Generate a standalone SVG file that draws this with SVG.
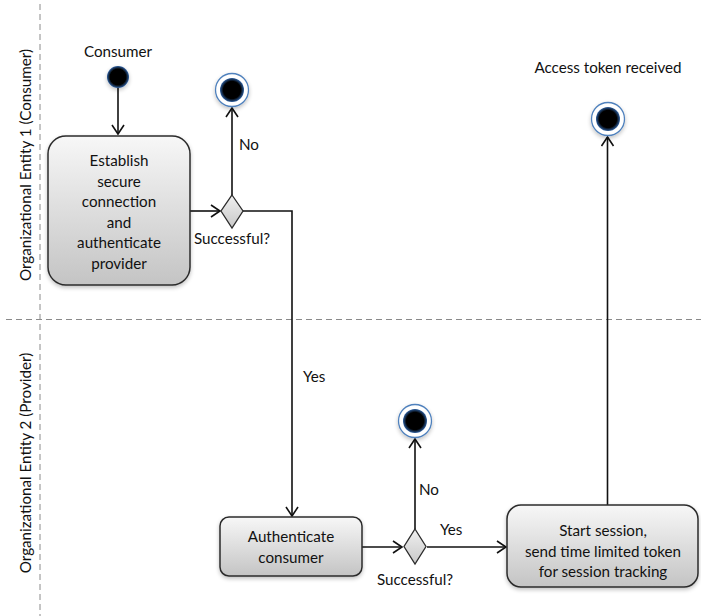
<svg xmlns="http://www.w3.org/2000/svg" width="701" height="616" viewBox="0 0 701 616">
  <style>
    text { font-family: Lato, "Liberation Sans", sans-serif; font-size: 15.2px; fill: #111; }
    .c { text-anchor: middle; }
    .lane { stroke: #8a8a8a; stroke-width: 1; stroke-dasharray: 6 4; fill: none; }
    .edge { stroke: #111; stroke-width: 1.6; fill: none; }
    .box { fill: url(#boxFill); stroke: #2b2b2b; stroke-width: 1.5; }
    .dia { fill: url(#diaFill); stroke: #2b2b2b; stroke-width: 1.3; }
    .ring { fill: #fff; stroke: #4f81bd; stroke-width: 1.3; }
    .dot { fill: url(#dotFill); }
  </style>
  <defs>
    <linearGradient id="boxFill" x1="0" y1="0" x2="0" y2="1">
      <stop offset="0" stop-color="#f7f7f7"/>
      <stop offset="1" stop-color="#c4c4c4"/>
    </linearGradient>
    <linearGradient id="diaFill" x1="0" y1="0" x2="0" y2="1">
      <stop offset="0" stop-color="#f0f0f0"/>
      <stop offset="1" stop-color="#c8c8c8"/>
    </linearGradient>
    <radialGradient id="dotFill">
      <stop offset="0.72" stop-color="#000"/>
      <stop offset="1" stop-color="#2d5e9e"/>
    </radialGradient>
    <filter id="shadow" x="-20%" y="-20%" width="140%" height="150%">
      <feGaussianBlur in="SourceAlpha" stdDeviation="2"/>
      <feOffset dx="0" dy="2" result="b"/>
      <feComponentTransfer><feFuncA type="linear" slope="0.25"/></feComponentTransfer>
      <feMerge><feMergeNode/><feMergeNode in="SourceGraphic"/></feMerge>
    </filter>
    <marker id="arrow" markerWidth="12" markerHeight="14" refX="10" refY="7" orient="auto" markerUnits="userSpaceOnUse">
      <polyline points="1,1 10,7 1,13" fill="none" stroke="#111" stroke-width="1.6"/>
    </marker>
  </defs>

  <!-- swimlane separators -->
  <g id="lanes">
    <line class="lane" x1="40" y1="4" x2="40" y2="616"/>
    <line class="lane" x1="6" y1="319.5" x2="701" y2="319.5"/>
    <text class="c" transform="translate(31 165) rotate(-90)">Organizational Entity 1 (Consumer)</text>
    <text class="c" transform="translate(31 463) rotate(-90)">Organizational Entity 2 (Provider)</text>
  </g>

  <!-- connectors -->
  <g id="connectors">
    <line class="edge" x1="118" y1="88" x2="118" y2="134" marker-end="url(#arrow)"/>
    <line class="edge" x1="190" y1="211" x2="220" y2="211" marker-end="url(#arrow)"/>
    <line class="edge" x1="232" y1="195" x2="232" y2="108" marker-end="url(#arrow)"/>
    <polyline class="edge" points="243,211 292,211 292,516" marker-end="url(#arrow)"/>
    <line class="edge" x1="362" y1="547" x2="402" y2="547" marker-end="url(#arrow)"/>
    <line class="edge" x1="415" y1="529" x2="415" y2="439" marker-end="url(#arrow)"/>
    <line class="edge" x1="427" y1="547" x2="506" y2="547" marker-end="url(#arrow)"/>
    <line class="edge" x1="607.5" y1="505" x2="607.5" y2="137" marker-end="url(#arrow)"/>
    <text x="239" y="150">No</text>
    <text x="303" y="382">Yes</text>
    <text x="419" y="495">No</text>
    <text x="440" y="535">Yes</text>
  </g>

  <!-- start -->
  <g id="start">
    <text class="c" x="118" y="57">Consumer</text>
    <circle class="dot" cx="118" cy="77" r="11" filter="url(#shadow)"/>
  </g>

  <g id="establish">
    <rect class="box" x="48" y="136" width="142" height="149" rx="18" filter="url(#shadow)"/>
    <text class="c" x="119" y="166">Establish</text>
    <text class="c" x="119" y="186.5">secure</text>
    <text class="c" x="119" y="207">connection</text>
    <text class="c" x="119" y="227.5">and</text>
    <text class="c" x="119" y="248">authenticate</text>
    <text class="c" x="119" y="268.5">provider</text>
  </g>

  <g id="decision1">
    <polygon class="dia" points="232,195 243,211 232,228 221,211"/>
    <text class="c" x="232" y="244">Successful?</text>
  </g>

  <g id="end1">
    <circle class="ring" cx="232" cy="90" r="16.5" filter="url(#shadow)"/>
    <circle class="dot" cx="232" cy="90" r="12"/>
  </g>

  <g id="authenticate">
    <rect class="box" x="220" y="517" width="142" height="59" rx="9" filter="url(#shadow)"/>
    <text class="c" x="291" y="542">Authenticate</text>
    <text class="c" x="291" y="562.5">consumer</text>
  </g>

  <g id="decision2">
    <polygon class="dia" points="415,529 426,546.5 415,564 404,546.5"/>
    <text class="c" x="415" y="585">Successful?</text>
  </g>

  <g id="end2">
    <circle class="ring" cx="415" cy="421" r="16.5" filter="url(#shadow)"/>
    <circle class="dot" cx="415" cy="421" r="12"/>
  </g>

  <g id="session">
    <rect class="box" x="507" y="505" width="191" height="82" rx="14" filter="url(#shadow)"/>
    <text class="c" x="603" y="536">Start session,</text>
    <text class="c" x="603" y="556.5">send time limited token</text>
    <text class="c" x="603" y="577">for session tracking</text>
  </g>

  <g id="end3">
    <text class="c" x="608" y="73">Access token received</text>
    <circle class="ring" cx="608" cy="119" r="16.5" filter="url(#shadow)"/>
    <circle class="dot" cx="608" cy="119" r="12"/>
  </g>
</svg>
